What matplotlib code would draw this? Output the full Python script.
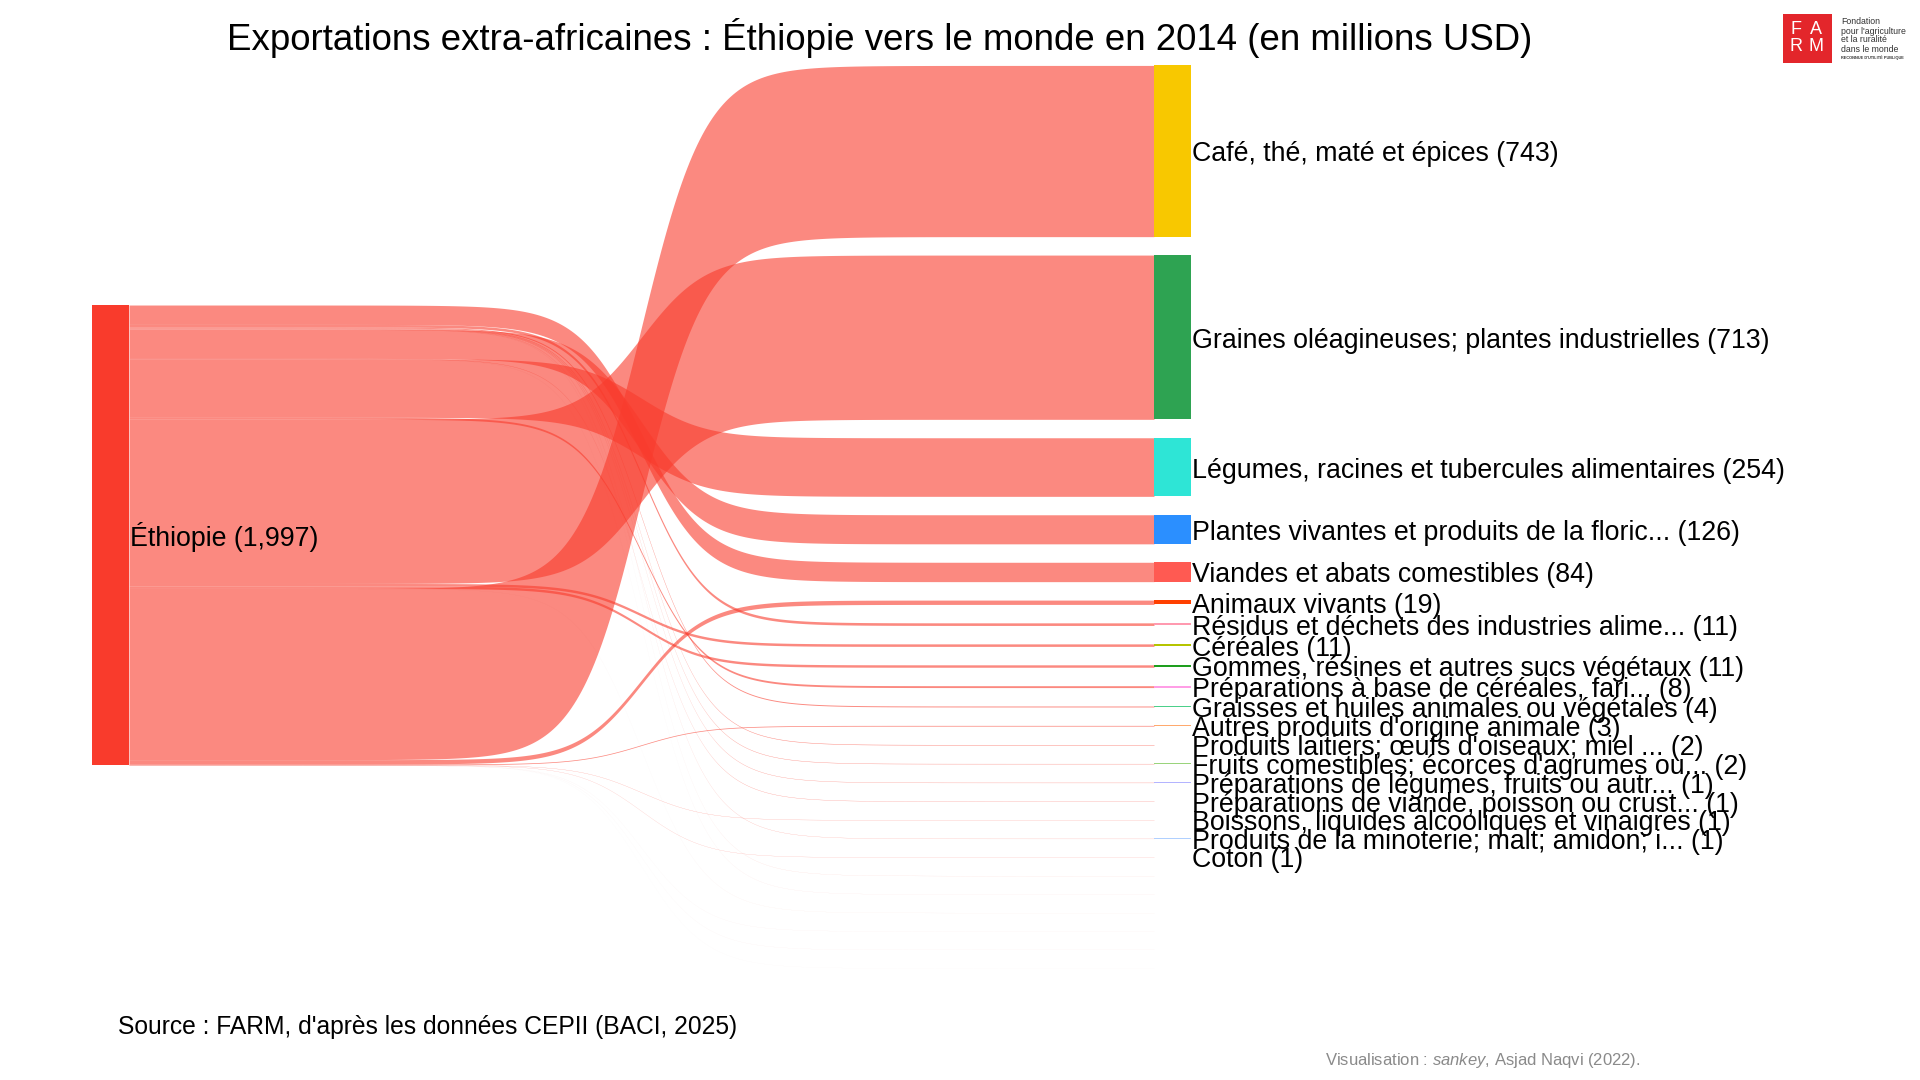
import numpy as np
import matplotlib.pyplot as plt
from matplotlib.patches import Rectangle

plt.rcParams['font.family'] = ['Liberation Sans', 'DejaVu Sans']
plt.rcParams['mathtext.fontset'] = 'custom'
plt.rcParams['mathtext.rm'] = 'Liberation Sans'
plt.rcParams['mathtext.it'] = 'Liberation Sans:italic'

# === DATA (millions USD, 2014) ===
SOURCE = "Éthiopie"
PRODUCTS = [
    "Café, thé, maté et épices",
    "Graines oléagineuses; plantes industrielles",
    "Légumes, racines et tubercules alimentaires",
    "Plantes vivantes et produits de la floric...",
    "Viandes et abats comestibles",
    "Animaux vivants",
    "Résidus et déchets des industries alime...",
    "Céréales",
    "Gommes, résines et autres sucs végétaux",
    "Préparations à base de céréales, fari...",
    "Graisses et huiles animales ou végétales",
    "Autres produits d'origine animale",
    "Produits laitiers; œufs d'oiseaux; miel ...",
    "Fruits comestibles; écorces d'agrumes ou...",
    "Préparations de légumes, fruits ou autr...",
    "Préparations de viande, poisson ou crust...",
    "Boissons, liquides alcooliques et vinaigres",
    "Produits de la minoterie; malt; amidon; i...",
    "Coton",
    "", "", "", "", "", "",          # flux < 0.5 : pas d'étiquette
]
VALUES = [743.2, 713.0, 254.3, 126.2, 84.1, 18.8, 11.3, 10.9, 10.6, 8.2,
          4.1, 3.2, 2.1, 1.6, 1.3, 1.2, 0.9, 0.8, 0.7,
          0.3, 0.2, 0.15, 0.1, 0.1, 0.05]
NODE_COLORS = ["#F8C800", "#2EA352", "#2EE5D6", "#2B8FFF", "#FF5A52",
               "#FF4000", "#FF9AB0", "#B5C400", "#1E9E1E", "#FF9EE6",
               "#4CD08A", "#FFAA6E", "#A8B4F8", "#9AD47C", "#B4B4FF",
               "#E8A8E8", "#FFC868", "#B0D0FF", "#FFD8A0",
               "#C8F0F0", "#C8E0FF", "#E0F0FF", "#D8F0F8", "#E8F0FF", "#F0F8FF"]
# stacking order of the flows on the source node (top to bottom)
LEFT_ORDER = [4, 6, 10, 12, 13, 14, 17, 19, 3, 15, 20, 2, 9, 1, 7, 8, 21,
              0, 5, 11, 16, 18, 22, 23, 24]

# === LAYOUT ===
SOURCE_COLOR = "#F93B2C"
LINK_ALPHA = 0.6
GAP = 80            # vertical gap between target nodes (value units)
LEFT_OFFSET = 1040  # top of the source node (value units)
LABEL_DY = 15       # labels sit slightly below the node centre
X_LEFT = (92, 129)
X_RIGHT = (1154, 1191)
K = 32              # sigmoid steepness
LABEL_SIZE = 19.3

fig = plt.figure(figsize=(19.2, 10.8), dpi=100)
ax = fig.add_axes([0, 0, 1, 1])
ax.set_xlim(0, 1920)
ax.set_ylim(4404, -284)
ax.set_axis_off()

n = len(VALUES)
total = sum(VALUES)

right_top = {}
y = 0
for i in range(n):
    right_top[i] = y
    y += VALUES[i] + GAP

left_top = {}
y = LEFT_OFFSET
for i in LEFT_ORDER:
    left_top[i] = y
    y += VALUES[i]

# === LINKS ===
xs = np.linspace(X_LEFT[1], X_RIGHT[0], 400)
t = (xs - xs[0]) / (xs[-1] - xs[0])
s = 1 / (1 + np.exp(-K * (t - 0.5)))
s = (s - s[0]) / (s[-1] - s[0])
for i in range(n):
    y0, y1 = left_top[i], right_top[i]
    top = y0 + (y1 - y0) * s
    ax.fill_between(xs, top, top + VALUES[i], color=SOURCE_COLOR,
                    alpha=LINK_ALPHA, lw=0)

# === NODES ===
ax.add_patch(Rectangle((X_LEFT[0], LEFT_OFFSET), X_LEFT[1] - X_LEFT[0], total,
                       color=SOURCE_COLOR, lw=0))
ax.text(X_LEFT[1] + 1, LEFT_OFFSET + total / 2 + LABEL_DY / 2,
        f"{SOURCE} ({total:,.0f})", fontsize=LABEL_SIZE, va='center', ha='left')

for i in range(n):
    ax.add_patch(Rectangle((X_RIGHT[0], right_top[i]), X_RIGHT[1] - X_RIGHT[0],
                           VALUES[i], color=NODE_COLORS[i], lw=0))
    if PRODUCTS[i] and round(VALUES[i]) >= 1:
        ax.text(X_RIGHT[1] + 1, right_top[i] + VALUES[i] / 2 + LABEL_DY,
                f"{PRODUCTS[i]} ({VALUES[i]:.0f})",
                fontsize=LABEL_SIZE, va='center', ha='left')

# === TEXTS ===
W, H = 1920, 1080
fig.text(880 / W, 1 - 38 / H,
         "Exportations extra-africaines : Éthiopie vers le monde en 2014 (en millions USD)",
         fontsize=26.4, ha='center', va='center')
fig.text(118 / W, 1 - 1027 / H,
         "Source : FARM, d'après les données CEPII (BACI, 2025)",
         fontsize=17.7, ha='left', va='center')
fig.text(1325 / W, 1 - 1061 / H,
         r"Visualisation : $\mathit{sankey}$, Asjad Naqvi (2022).",
         fontsize=12, color="#8a8a8a", ha='left', va='center')

# === FARM LOGO ===
fig.add_artist(Rectangle((1783 / W, 1 - 63 / H), 49 / W, 49 / H,
                         transform=fig.transFigure, color="#E3262B", lw=0))
for ch, lx, ly in [("F", 1796, 29), ("A", 1816, 29), ("R", 1796, 46.5), ("M", 1816, 46.5)]:
    fig.text(lx / W, 1 - ly / H, ch, color="white", fontsize=13,
             ha='center', va='center')
for line, ly in [("Fondation", 22), ("pour l'agriculture", 31),
                 ("et la ruralité", 40), ("dans le monde", 49)]:
    fig.text(1841 / W, 1 - ly / H, line, fontsize=6.3, color="#333333",
             ha='left', va='center')
fig.text(1841 / W, 1 - 58 / H, "RECONNUE D'UTILITÉ PUBLIQUE", fontsize=2.8,
         color="#333333", weight='bold', ha='left', va='center')

fig.savefig("out.png", dpi=100, facecolor="white")
